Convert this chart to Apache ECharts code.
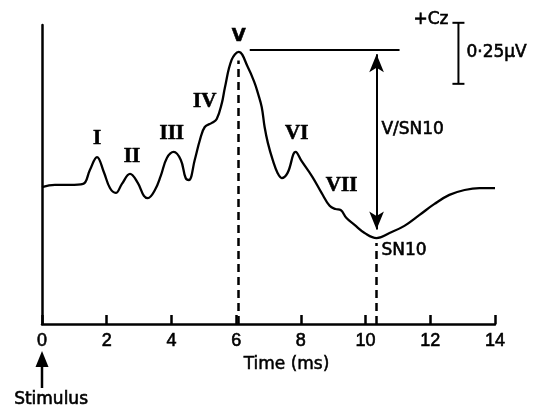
<!DOCTYPE html>
<html>
<head>
<meta charset="utf-8">
<script src="https://cdn.jsdelivr.net/npm/echarts@6/dist/echarts.min.js"></script>
<style>
html,body{margin:0;padding:0;background:#fff;}
#abr{width:540px;height:410px;}
</style>
</head>
<body>
<div id="abr"></div>
<script>
// 波形采样：时间(ms) 与幅值(µV)
var timeMs = [0, 0.40, 0.86, 1.27, 1.48, 1.70, 1.91, 2.10, 2.28, 2.47,
    2.72, 2.96, 3.15, 3.27, 3.49, 3.67, 3.86, 4.07, 4.29, 4.44,
    4.54, 4.72, 4.88, 5.03, 5.25, 5.40, 5.56, 5.65, 5.86, 6.08,
    6.36, 6.57, 6.67, 6.79, 6.88, 6.98, 7.13, 7.28, 7.41, 7.59,
    7.84, 8.02, 8.36, 8.64, 8.89, 9.07, 9.23, 9.41, 9.66, 9.97,
    10.34, 10.74, 11.20, 11.67, 12.13, 12.59, 13.06, 13.52, 14.0];
var amplitude = [0.561, 0.570, 0.570, 0.574, 0.631, 0.684, 0.623, 0.557, 0.537, 0.574,
    0.615, 0.578, 0.525, 0.516, 0.549, 0.607, 0.680, 0.705, 0.672, 0.598,
    0.590, 0.672, 0.754, 0.807, 0.824, 0.840, 0.906, 0.967, 1.082, 1.115,
    1.053, 0.988, 0.947, 0.889, 0.807, 0.742, 0.672, 0.619, 0.598, 0.619,
    0.705, 0.668, 0.602, 0.537, 0.484, 0.471, 0.467, 0.434, 0.406, 0.373,
    0.352, 0.373, 0.402, 0.447, 0.492, 0.529, 0.549, 0.557, 0.557];
// X轴刻度
var xTicks = [0, 2, 4, 6, 8, 10, 12, 14];
// 波峰名称
var peakNames = ['I', 'II', 'III', 'IV', 'V', 'VI', 'VII'];
// V波与SN10
var vLatency = 6.05, vAmp = 1.115;
var sn10Latency = 10.34, sn10Amp = 0.352;
var scaleBarUv = 0.25;

var dom = document.getElementById('abr');
var myChart = echarts.init(dom);

var waveData = [];
for (var i = 0; i < timeMs.length; i++) {
    waveData.push([timeMs[i], amplitude[i]]);
}

var black = '#000';
var dash = {type: [8, 5], width: 2.5, color: black};

option = {
    animation: false,
    grid: {left: 42, right: 45, top: 25, bottom: 86},
    xAxis: {
        type: 'value',
        min: xTicks[0],
        max: xTicks[xTicks.length - 1],
        interval: 2,
        name: 'Time (ms)',
        nameLocation: 'middle',
        nameGap: 32,
        nameTextStyle: {color: black, fontFamily: 'DejaVu Sans', fontSize: 17, padding: [0, 0, 0, 36],
            textBorderColor: black, textBorderWidth: 0.5},
        axisLine: {lineStyle: {color: black, width: 2.5}},
        axisTick: {inside: true, length: 9, lineStyle: {color: black, width: 2.5}},
        axisLabel: {color: black, fontFamily: 'Liberation Sans', fontSize: 18, margin: 8,
            textBorderColor: black, textBorderWidth: 0.6},
        splitLine: {show: false}
    },
    yAxis: {
        type: 'value',
        min: 0,
        max: 1.225,
        axisLine: {show: true, lineStyle: {color: black, width: 2.5}},
        axisTick: {show: false},
        axisLabel: {show: false},
        splitLine: {show: false}
    },
    series: [{
        type: 'line',
        data: waveData,
        smooth: 0.4,
        showSymbol: false,
        lineStyle: {color: black, width: 2.3},
        markLine: {
            silent: true,
            symbol: 'none',
            label: {show: false},
            data: [
                [{coord: [vLatency, 0], lineStyle: dash}, {coord: [vLatency, vAmp - 0.035]}],
                [{coord: [sn10Latency, 0], lineStyle: dash}, {coord: [sn10Latency, sn10Amp - 0.02]}],
                [{coord: [6.42, 1.123], lineStyle: {type: 'solid', width: 2, color: black}}, {coord: [11.05, 1.123]}],
                [{coord: [sn10Latency, sn10Amp + 0.035], symbol: 'arrow', symbolSize: [11, 18],
                    lineStyle: {type: 'solid', width: 2, color: black}},
                 {coord: [sn10Latency, 1.105], symbol: 'arrow', symbolSize: [11, 18]}]
            ]
        }
    }]
};
myChart.setOption(option, true);

// 标注(文字、刺激箭头、比例尺)
function px(x, y) {
    return myChart.convertToPixel({gridIndex: 0}, [x, y]);
}
function txt(p, s, font, align) {
    return {
        type: 'text', x: p[0], y: p[1], silent: true,
        style: {text: s, fill: black, font: font, align: align || 'center', verticalAlign: 'middle',
            stroke: black, lineWidth: 0.6}
    };
}
var serif = 'bold 21px "Liberation Serif"';
var sans = '17px "DejaVu Sans"';
var labelAt = [[1.70, 0.758], [2.78, 0.684], [4.01, 0.779], [5.03, 0.910], [6.08, 1.180], [7.87, 0.779], [9.26, 0.566]];
var g = [];
for (var k = 0; k < peakNames.length; k++) {
    g.push(txt(px(labelAt[k][0], labelAt[k][1]), peakNames[k], peakNames[k] == 'V' ? 'bold 18px "DejaVu Sans"' : serif));
}
g.push(txt(px(10.49, 0.795), 'V/SN10', sans, 'left'));
g.push(txt(px(10.49, 0.299), 'SN10', sans, 'left'));

// 刺激箭头：从x=0处轴线往下画
var origin = px(0, 0);
var tipY = origin[1] + 27, tailY = origin[1] + 64;
g.push({type: 'line', silent: true, shape: {x1: origin[0], y1: tailY, x2: origin[0], y2: tipY + 12},
    style: {stroke: black, lineWidth: 2.5}});
g.push({type: 'polygon', silent: true,
    shape: {points: [[origin[0], tipY], [origin[0] - 6.5, tipY + 16], [origin[0] + 6.5, tipY + 16]]},
    style: {fill: black}});
g.push(txt(px(0.28, -0.311), 'Stimulus', sans));

// 比例尺 0.25µV
var barTop = px(12.87, 1.234), barBot = px(12.87, 1.234 - scaleBarUv);
var bs = {stroke: black, lineWidth: 2};
g.push({type: 'line', silent: true, shape: {x1: barTop[0], y1: barTop[1], x2: barBot[0], y2: barBot[1]}, style: bs});
g.push({type: 'line', silent: true, shape: {x1: barTop[0] - 6, y1: barTop[1], x2: barTop[0] + 6, y2: barTop[1]}, style: bs});
g.push({type: 'line', silent: true, shape: {x1: barBot[0] - 6, y1: barBot[1], x2: barBot[0] + 6, y2: barBot[1]}, style: bs});
g.push(txt([barTop[0] - 10, barTop[1] - 3], '+Cz', sans, 'right'));
g.push(txt([barTop[0] + 8, (barTop[1] + barBot[1]) / 2 - 1], '0\u00b725\u00b5V', sans, 'left'));

myChart.setOption({graphic: g});
</script>
</body>
</html>
